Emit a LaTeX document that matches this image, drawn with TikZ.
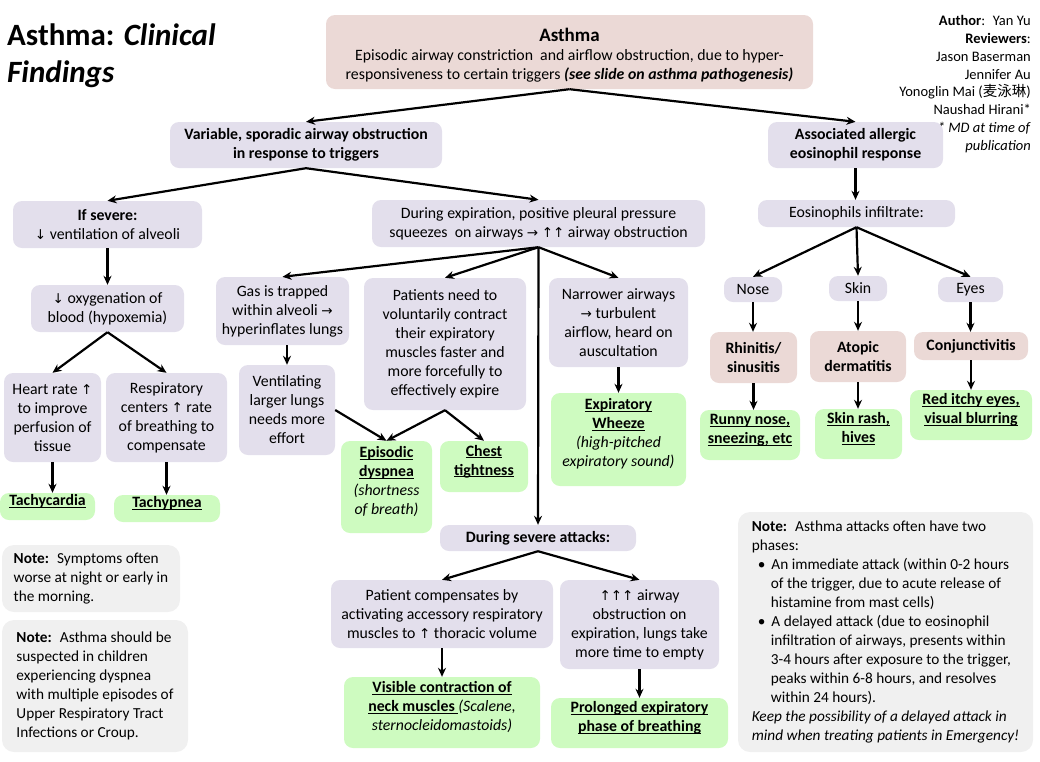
\documentclass[tikz,border=0pt]{standalone}
\usepackage{fontspec}
\setmainfont{Carlito}
\newfontfamily\cjk{Noto Sans CJK SC}
\newfontfamily\symfont{DejaVu Sans}
\usetikzlibrary{arrows.meta}

\definecolor{lavbox}{RGB}{227,223,236}
\definecolor{pinkbox}{RGB}{235,217,214}
\definecolor{greenbox}{RGB}{206,251,192}
\definecolor{notebox}{RGB}{240,240,240}

\newcommand{\arrup}{{\symfont\fontsize{13.5}{19}\selectfont ↑}}
\newcommand{\arrdn}{{\symfont\fontsize{13.5}{19}\selectfont ↓}}
\newcommand{\arrrt}{{\symfont\fontsize{13.5}{19}\selectfont →}}
\newcommand{\ulin}[1]{\underline{\smash{#1}}}
\newcommand{\aside}[1]{{\mdseries\itshape #1}}

\begin{document}
\begin{tikzpicture}[x=1pt,y=-1pt,
  every node/.style={font=\fontsize{15.8}{19}\selectfont, align=center, inner sep=2pt},
  box/.style={rounded corners=9pt, fill=lavbox},
  cause/.style={rounded corners=9pt, fill=pinkbox},
  sign/.style={rounded corners=9pt, fill=greenbox, font=\fontsize{15.8}{19}\selectfont\bfseries},
  bold/.style={font=\fontsize{15.8}{19}\selectfont\bfseries},
  note/.style={rounded corners=12pt, fill=notebox, align=left, font=\fontsize{15.3}{19}\selectfont},
  arr/.style={-{Stealth[length=9pt,width=8pt]}, line width=2.2pt}]
  \useasboundingbox (0,0) rectangle (1040,761);

  % Title and authors
  \node[anchor=north west, align=left, font=\fontsize{31}{37}\selectfont\bfseries] (title) at (5,22)
    {Asthma: \textit{Clinical}\\ \textit{Findings}};
  \node[anchor=north east, align=right, font=\fontsize{14.5}{17.9}\selectfont, inner sep=0pt] (author) at (1031,15)
    {\textbf{Author}:~ Yan Yu\\ \textbf{Reviewers}:\\ Jason Baserman\\ Jennifer Au\\
     Yonoglin Mai (\smash{\cjk 麦泳琳})\\ Naushad Hirani*\\ \textit{* MD at time of}\\ \textit{publication}};

  % Top of the tree
  \node[cause, minimum width=487, minimum height=74] (asthma) at (569.5,52)
    {{\bfseries\fontsize{19}{19}\selectfont\rule{0pt}{19pt}Asthma}\\[0pt]
     Episodic airway constriction~ and airflow obstruction, due to hyper-\\
     responsiveness to certain triggers \textbf{\textit{(see slide on asthma pathogenesis)}}};
  \node[box, bold, minimum width=272, minimum height=46] (var) at (306,145)
    {Variable, sporadic airway obstruction\\ in response to triggers};
  \node[box, bold, minimum width=175, minimum height=46] (assoc) at (855.5,145)
    {Associated allergic\\ eosinophil response};

  % Severe branch
  \node[box, minimum width=189, minimum height=47] (severe) at (107.5,224.5)
    {\textbf{If severe:}\\ \arrdn{} ventilation of alveoli};
  \node[box, minimum width=153, minimum height=47] (oxy) at (107.5,308.5)
    {\arrdn{} oxygenation of\\ blood (hypoxemia)};
  \node[box, minimum width=97, minimum height=89] (heart) at (52.5,417.5)
    {Heart rate \arrup\\ to improve\\ perfusion of\\ tissue};
  \node[box, minimum width=121, minimum height=89] (resp) at (166.5,417.5)
    {Respiratory\\ centers \arrup{} rate\\ of breathing to\\ compensate};
  \node[sign, minimum width=95, minimum height=27] (tachyc) at (47.5,506.5) {\ulin{Tachycardia}};
  \node[sign, minimum width=106, minimum height=27] (tachyp) at (167,508.5) {\ulin{Tachypnea}};

  % Expiration branch
  \node[box, minimum width=333, minimum height=47] (dexp) at (538.5,223.5)
    {During expiration, positive pleural pressure\\
     squeezes~ on airways \arrrt{} \arrup\arrup{} airway obstruction};
  \node[box, minimum width=133, minimum height=68] (gas) at (282.5,311)
    {Gas is trapped\\ within alveoli \arrrt\\ hyperinflates lungs};
  \node[box, minimum width=96, minimum height=90] (vent) at (287,410)
    {Ventilating\\ larger lungs\\ needs more\\ effort};
  \node[box, minimum width=162, minimum height=132] (pat) at (445,344)
    {Patients need to\\ voluntarily contract\\ their expiratory\\ muscles faster and\\ more forcefully to\\ effectively expire};
  \node[box, minimum width=139, minimum height=89] (narrow) at (618.5,322.5)
    {Narrower airways\\ \arrrt{} turbulent\\ airflow, heard on\\ auscultation};
  \node[sign, minimum width=91, minimum height=92] (dysp) at (386.5,487)
    {\ulin{Episodic}\\ \ulin{dyspnea}\\ \aside{(shortness}\\ \aside{of breath)}};
  \node[sign, minimum width=88, minimum height=51] (chest) at (484,466.5)
    {\ulin{Chest}\\ \ulin{tightness}};
  \node[sign, minimum width=135, minimum height=93] (wheeze) at (618.5,439.5)
    {\ulin{Expiratory}\\ \ulin{Wheeze}\\ \aside{(high-pitched}\\ \aside{expiratory sound)}};

  % Severe attacks
  \node[box, bold, minimum width=196, minimum height=26] (sevatt) at (538,538) {During severe attacks:};
  \node[box, minimum width=222, minimum height=68] (comp) at (442,614)
    {Patient compensates by\\ activating accessory respiratory\\ muscles to \arrup{} thoracic volume};
  \node[box, minimum width=159, minimum height=89] (obst) at (639.5,624.5)
    {\arrup\arrup\arrup{} airway\\ obstruction on\\ expiration, lungs take\\ more time to empty};
  \node[sign, minimum width=196, minimum height=71] (neck) at (442,712.5)
    {\ulin{Visible contraction of}\\ \ulin{neck muscles }\aside{(Scalene,}\\ \aside{sternocleidomastoids)}};
  \node[sign, minimum width=177, minimum height=50] (prolong) at (639.5,723)
    {\ulin{Prolonged expiratory}\\ \ulin{phase of breathing}};

  % Allergic branch
  \node[box, minimum width=197, minimum height=27] (eosin) at (856.5,213.5) {Eosinophils infiltrate:};
  \node[box, minimum width=58, minimum height=25] (nose) at (753,289.5) {Nose};
  \node[box, minimum width=58, minimum height=25] (skin) at (858,288.5) {Skin};
  \node[box, minimum width=65, minimum height=25] (eyes) at (970.5,289.5) {Eyes};
  \node[cause, bold, minimum width=87, minimum height=51] (rhin) at (753.5,357.5) {Rhinitis/\\ sinusitis};
  \node[cause, bold, minimum width=96, minimum height=51] (atopic) at (858,356.5) {Atopic\\ dermatitis};
  \node[cause, bold, minimum width=114, minimum height=28] (conj) at (971,346) {Conjunctivitis};
  \node[sign, minimum width=100, minimum height=50] (runny) at (750,435) {\ulin{Runny nose,}\\ \ulin{sneezing, etc}};
  \node[sign, minimum width=87, minimum height=50] (rash) at (858.5,434) {\ulin{Skin rash,}\\ \ulin{hives}};
  \node[sign, minimum width=122, minimum height=50] (redeye) at (971,415) {\ulin{Red itchy eyes,}\\ \ulin{visual blurring}};

  % Notes
  \node[note, minimum width=178, minimum height=67] (note1) at (91,578.5)
    {\textbf{Note:}~ Symptoms often\\ worse at night or early in\\ the morning.};
  \node[note, minimum width=186, minimum height=132] (note2) at (95,686)
    {\textbf{Note:}~ Asthma should be\\ suspected in children\\ experiencing dyspnea\\ with multiple episodes of\\
     Upper Respiratory Tract\\ Infections or Croup.};
  \node[note, minimum width=295, minimum height=240] (note3) at (885.5,632)
    {\textbf{Note:}~ Asthma attacks often have two\\ phases:\\
     \hspace*{6pt}\textbullet\hspace{6pt}An immediate attack (within 0-2 hours\\
     \hspace*{19pt}of the trigger, due to acute release of\\
     \hspace*{19pt}histamine from mast cells)\\
     \hspace*{6pt}\textbullet\hspace{6pt}A delayed attack (due to eosinophil\\
     \hspace*{19pt}infiltration of airways, presents within\\
     \hspace*{19pt}3-4 hours after exposure to the trigger,\\
     \hspace*{19pt}peaks within 6-8 hours, and resolves\\
     \hspace*{19pt}within 24 hours).\\
     \textit{Keep the possibility of a delayed attack in}\\
     \textit{mind when treating patients in Emergency!}};

  % Arrows from the top
  \draw[arr] (asthma.south) -- (var.north);
  \draw[arr] (asthma.south) -- (assoc.north);
  \draw[arr] (var.south) -- (severe.north);
  \draw[arr] (var.south) -- (dexp.north);

  % Arrows in the severe branch
  \draw[arr] (severe) -- (oxy);
  \draw[arr] (oxy.south) -- (heart.north);
  \draw[arr] (oxy.south) -- (resp.north);
  \draw[arr] (heart.south) -- (heart.south |- tachyc.north);
  \draw[arr] (resp.south) -- (resp.south |- tachyp.north);

  % Arrows in the expiration branch
  \draw[arr] (dexp.south) -- (gas.north);
  \draw[arr] (dexp.south) -- (pat.north);
  \draw[arr] (dexp.south) -- (narrow.north);
  \draw[arr] (dexp.south) -- (sevatt.north);
  \draw[arr] (vent.north |- gas.south) -- (vent.north);
  \draw[arr] (vent.east) -- (dysp.north);
  \draw[arr] (pat.south) -- (dysp.north);
  \draw[arr] (pat.south) -- (chest.north);
  \draw[arr] (narrow) -- (wheeze);

  % Arrows for severe attacks
  \draw[arr] (sevatt.south) -- (comp.north);
  \draw[arr] (sevatt.south) -- (obst.north);
  \draw[arr] (comp) -- (neck);
  \draw[arr] (obst) -- (prolong);

  % Arrows in the allergic branch
  \draw[arr] (assoc.south) -- (assoc.south |- eosin.north);
  \draw[arr] (eosin.south) -- (nose.north);
  \draw[arr] (eosin.south) -- (skin.north);
  \draw[arr] (eosin.south) -- (eyes.north);
  \draw[arr] (nose.south) -- (nose.south |- rhin.north);
  \draw[arr] (skin) -- (atopic);
  \draw[arr] (eyes.south) -- (eyes.south |- conj.north);
  \draw[arr] (rhin.south) -- (rhin.south |- runny.north);
  \draw[arr] (atopic.south) -- (atopic.south |- rash.north);
  \draw[arr] (conj) -- (redeye);
\end{tikzpicture}
\end{document}
